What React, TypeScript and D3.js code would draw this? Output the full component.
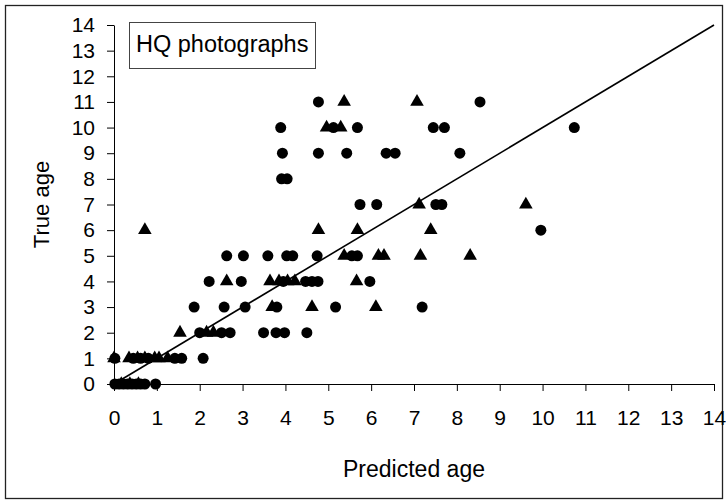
import { useEffect, useRef } from 'react';
import * as d3 from 'd3';

// [predicted age, true age]
const circlePoints: [number, number][] = [
  [4.77, 11], [8.54, 11],
  [3.89, 10], [5.12, 10], [5.68, 10], [7.45, 10], [7.71, 10], [10.74, 10],
  [3.93, 9], [4.77, 9], [5.43, 9], [6.35, 9], [6.56, 9], [8.07, 9],
  [3.91, 8], [4.04, 8],
  [5.74, 7], [6.13, 7], [7.51, 7], [7.65, 7],
  [9.96, 6],
  [2.63, 5], [3.02, 5], [3.59, 5], [4.03, 5], [4.17, 5], [4.74, 5], [5.55, 5], [5.68, 5],
  [2.22, 4], [2.97, 4], [3.95, 4], [4.47, 4], [4.62, 4], [4.76, 4], [5.97, 4],
  [1.87, 3], [2.57, 3], [3.06, 3], [3.8, 3], [5.17, 3], [7.19, 3],
  [2.0, 2], [2.51, 2], [2.71, 2], [3.49, 2], [3.78, 2], [3.98, 2], [4.5, 2],
  [0.02, 1], [0.45, 1], [0.62, 1], [0.8, 1], [1.42, 1], [1.58, 1], [2.08, 1],
  [0.02, 0], [0.12, 0], [0.22, 0], [0.32, 0], [0.42, 0], [0.52, 0], [0.62, 0], [0.72, 0], [0.97, 0],
];

const trianglePoints: [number, number][] = [
  [5.37, 11], [7.07, 11],
  [4.96, 10], [5.29, 10],
  [7.12, 7], [9.61, 7],
  [0.72, 6], [4.77, 6], [5.68, 6], [7.39, 6],
  [5.37, 5], [6.17, 5], [6.3, 5], [7.15, 5], [8.31, 5],
  [2.63, 4], [3.64, 4], [3.85, 4], [4.05, 4], [4.22, 4], [5.66, 4],
  [3.69, 3], [4.62, 3], [6.11, 3],
  [1.54, 2], [2.16, 2], [2.32, 2],
  [0.0, 1], [0.35, 1], [0.55, 1], [0.72, 1], [0.95, 1], [1.05, 1], [1.25, 1],
  [0.17, 0], [0.37, 0], [0.57, 0],
];

const ticks = d3.range(0, 15);
const fitLine: [number, number][] = [[0, 0], [14, 14]];

const xLabel = 'Predicted age';
const yLabel = 'True age';
const legendText = 'HQ photographs';

const App = () => {
  const svgRef = useRef<SVGSVGElement>(null);

  useEffect(() => {
    const svg = d3.select(svgRef.current);
    svg.selectAll('*').remove();

    const font = '"Liberation Sans", Arial, sans-serif';

    const x = d3.scaleLinear().domain([0, 14]).range([114, 714]);
    const y = d3.scaleLinear().domain([0, 14]).range([384, 25]);

    // outer frame
    svg.append('rect')
      .attr('x', 5.5).attr('y', 5.5).attr('width', 717).attr('height', 493)
      .attr('fill', 'white').attr('stroke', '#222').attr('stroke-width', 1.3);

    // x axis
    const xAxis = svg.append('g')
      .attr('transform', `translate(0,${y(0)})`)
      .call(d3.axisBottom(x).tickValues(ticks).tickSize(7).tickPadding(19).tickSizeOuter(0));
    xAxis.select('.domain').attr('stroke', '#000');
    xAxis.selectAll('line').attr('stroke', '#000');
    xAxis.selectAll('text')
      .attr('font-family', font).attr('font-size', 21).attr('fill', '#000');

    // y axis
    const yAxis = svg.append('g')
      .attr('transform', `translate(${x(0)},0)`)
      .call(d3.axisLeft(y).tickValues(ticks).tickSize(7).tickPadding(12).tickSizeOuter(0));
    yAxis.select('.domain').attr('stroke', '#000');
    yAxis.selectAll('line').attr('stroke', '#000');
    yAxis.selectAll('text')
      .attr('font-family', font).attr('font-size', 21).attr('fill', '#000');

    // 1:1 line
    svg.append('path')
      .datum(fitLine)
      .attr('d', d3.line<[number, number]>().x(d => x(d[0])).y(d => y(d[1])))
      .attr('stroke', '#000').attr('stroke-width', 1.6).attr('fill', 'none');

    // markers
    svg.append('g').selectAll('circle')
      .data(circlePoints)
      .enter()
      .append('circle')
      .attr('cx', d => x(d[0])).attr('cy', d => y(d[1]))
      .attr('r', 5.5).attr('fill', '#000');

    const tri = d3.symbol().type(d3.symbolTriangle).size(80);
    svg.append('g').selectAll('path')
      .data(trianglePoints)
      .enter()
      .append('path')
      .attr('d', tri)
      .attr('transform', d => `translate(${x(d[0])},${y(d[1])})`)
      .attr('fill', '#000');

    // legend box
    svg.append('rect')
      .attr('x', 129.5).attr('y', 22.5).attr('width', 186).attr('height', 46)
      .attr('fill', 'white').attr('stroke', '#444').attr('stroke-width', 1);
    svg.append('text')
      .attr('x', 136).attr('y', 52)
      .attr('font-family', font).attr('font-size', 23.5)
      .text(legendText);

    // axis titles
    svg.append('text')
      .attr('x', (x(0) + x(14)) / 2).attr('y', 477)
      .attr('text-anchor', 'middle')
      .attr('font-family', font).attr('font-size', 23)
      .text(xLabel);

    svg.append('text')
      .attr('transform', `translate(49,${(y(0) + y(14)) / 2}) rotate(-90)`)
      .attr('text-anchor', 'middle')
      .attr('font-family', font).attr('font-size', 22)
      .text(yLabel);
  }, []);

  return (
    <svg ref={svgRef} width={726} height={504}
      style={{ position: 'absolute', left: 0, top: 0, background: 'white' }} />
  );
};

export default App;
